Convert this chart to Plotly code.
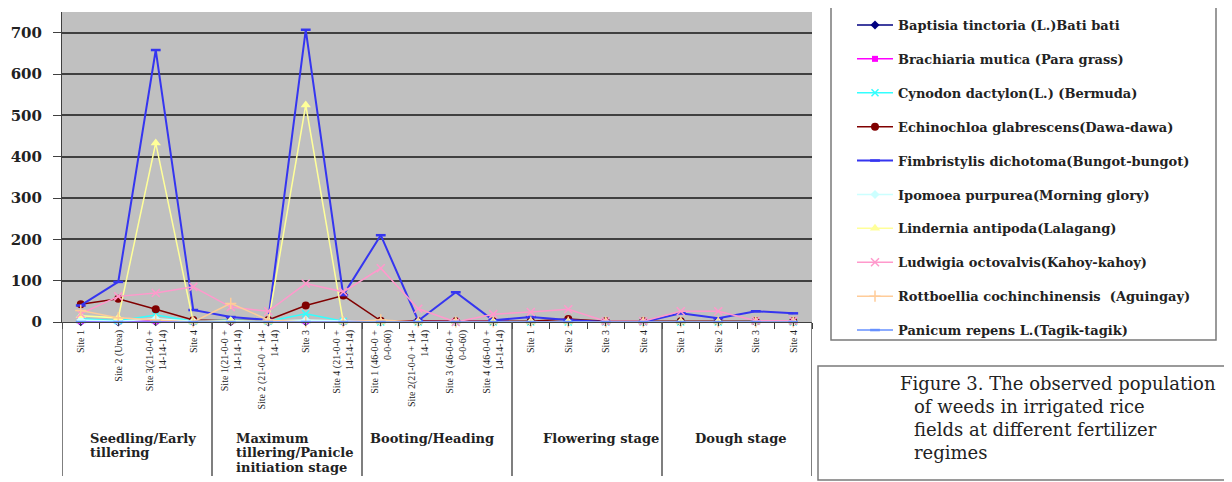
import plotly.graph_objects as go

# ---------------- data ----------------
site_labels = [
    "Site 1", "Site 2 (Urea)", "Site 3(21-0-0 +<br>14-14-14)", "Site 4",
    "Site 1(21-0-0 +<br>14-14-14)", "Site 2 (21-0-0 + 14-<br>14-14)", "Site 3", "Site 4 (21-0-0 +<br>14-14-14)",
    "Site 1 (46-0-0 +<br>0-0-60)", "Site 2(21-0-0 + 14-<br>14-14)", "Site 3 (46-0-0 +<br>0-0-60)", "Site 4 (46-0-0 +<br>14-14-14)",
    "Site 1", "Site 2", "Site 3", "Site 4",
    "Site 1", "Site 2", "Site 3", "Site 4",
]
stage_labels = [
    ["Seedling/Early", "tillering"],
    ["Maximum", "tillering/Panicle", "initiation stage"],
    ["Booting/Heading"],
    ["Flowering stage"],
    ["Dough stage"],
]

baptisia     = [1, 0, 1, 0, 1, 0, 1, 0, 0, 0, 0, 0, 0, 0, 0, 0, 0, 0, 0, 0]
brachiaria   = [2, 2, 2, 1, 2, 1, 2, 1, 1, 1, 1, 1, 1, 1, 1, 1, 1, 1, 1, 1]
cynodon      = [8, 3, 17, 2, 5, 2, 20, 2, 0, 0, 0, 0, 0, 0, 0, 0, 0, 0, 2, 0]
echinochloa  = [43, 56, 31, 5, 3, 5, 40, 64, 3, 2, 2, 2, 2, 7, 2, 2, 2, 2, 2, 2]
fimbristylis = [40, 97, 658, 29, 12, 5, 707, 65, 210, 3, 72, 4, 12, 5, 0, 0, 21, 9, 26, 21]
ipomoea      = [5, 2, 8, 2, 3, 2, 5, 2, 0, 0, 0, 0, 0, 0, 0, 0, 0, 0, 0, 0]
lindernia    = [15, 10, 433, 0, 2, 0, 525, 0, 0, 0, 0, 0, 0, 0, 0, 0, 0, 0, 0, 0]
ludwigia     = [20, 62, 70, 85, 36, 26, 93, 73, 130, 32, 0, 19, 24, 31, 2, 2, 26, 26, 3, 3]
rottboellia  = [28, 10, 5, 0, 45, 5, 0, 0, 5, 0, 0, 0, 0, 0, 0, 0, 0, 0, 0, 0]
panicum      = [0, 0, 0, 0, 0, 0, 0, 0, 0, 0, 0, 0, 0, 0, 0, 0, 0, 0, 0, 0]

series_names = [
    "Baptisia tinctoria (L.)Bati bati",
    "Brachiaria mutica (Para grass)",
    "Cynodon dactylon(L.) (Bermuda)",
    "Echinochloa glabrescens(Dawa-dawa)",
    "Fimbristylis dichotoma(Bungot-bungot)",
    "Ipomoea purpurea(Morning glory)",
    "Lindernia antipoda(Lalagang)",
    "Ludwigia octovalvis(Kahoy-kahoy)",
    "Rottboellia cochinchinensis  (Aguingay)",
    "Panicum repens L.(Tagik-tagik)",
]
series_values = [baptisia, brachiaria, cynodon, echinochloa, fimbristylis,
                 ipomoea, lindernia, ludwigia, rottboellia, panicum]

caption_lines = ["Figure 3. The observed population", "of weeds in irrigated rice",
                 "fields at different fertilizer", "regimes"]

# ---------------- styles ----------------
styles = [
    dict(color="#000080", symbol="diamond", size=7, lw=1.5),
    dict(color="#FF00FF", symbol="square", size=6, lw=1.5),
    dict(color="#33FFFF", symbol="x-thin", size=7, lw=1.5),
    dict(color="#800000", symbol="circle", size=8, lw=1.5),
    dict(color="#3535F0", symbol="line-ew", size=7, lw=2),
    dict(color="#CCFFFF", symbol="diamond", size=7, lw=1.5),
    dict(color="#FFFF99", symbol="triangle-up", size=9, lw=1.5),
    dict(color="#FF99CC", symbol="x-thin", size=8, lw=1.5),
    dict(color="#FFCC99", symbol="cross-thin", size=8, lw=1.5),
    dict(color="#6690FF", symbol="line-ew", size=7, lw=1.5),
]

x_idx = list(range(len(site_labels)))

fig = go.Figure()
for name, vals, st in zip(series_names, series_values, styles):
    thin = st["symbol"] in ("line-ew", "x-thin", "cross-thin")
    marker = dict(symbol=st["symbol"], size=st["size"], color=st["color"])
    if thin:
        marker["line"] = dict(color=st["color"], width=2.5 if st["symbol"] == "line-ew" else 1.5)
    fig.add_trace(go.Scatter(
        x=x_idx, y=vals, name=name, mode="lines+markers",
        line=dict(color=st["color"], width=st["lw"]),
        marker=marker, cliponaxis=False, legendgroup=name,
    ))

# the page body has an 8px margin; layout below is expressed in page pixels
OFF = 8
W, H = 1232 - OFF, 482 - OFF
PL, PR, PT, PB = 62, 812, 12, 322          # plot area in page pixels
L, R, T, B = PL - OFF, W - (PR - OFF), PT - OFF, H - (PB - OFF)
pw, ph = PR - PL, PB - PT

def px2xp(px):
    return (px - PL) / pw

def px2yp(py):
    return (PB - py) / ph

shapes = []
# group separators below axis
for b in [-0.5, 3.5, 7.5, 11.5, 15.5, 19.5]:
    shapes.append(dict(type="line", xref="x", yref="paper", x0=b, x1=b,
                       y0=0, y1=px2yp(476), line=dict(color="#555555", width=1.5)))
# legend box
shapes.append(dict(type="rect", xref="paper", yref="paper",
                   x0=px2xp(831), x1=px2xp(1216), y0=px2yp(340), y1=px2yp(5),
                   line=dict(color="#7a7a7a", width=1.5), fillcolor="rgba(0,0,0,0)"))
# caption box
shapes.append(dict(type="rect", xref="paper", yref="paper",
                   x0=px2xp(818), x1=px2xp(1240), y0=px2yp(480), y1=px2yp(366),
                   line=dict(color="#7a7a7a", width=1.5), fillcolor="rgba(0,0,0,0)"))

annotations = []
stage_left = [0.19, 4.09, 7.66, 12.27, 16.33]
for lines, xl in zip(stage_labels, stage_left):
    for k, t in enumerate(lines):
        annotations.append(dict(text=t, xref="x", yref="paper", x=xl, y=px2yp(438 + 14.5 * k),
                                xanchor="left", yanchor="middle", showarrow=False,
                                font=dict(family="DejaVu Serif", size=13, color="#222222", weight="bold")))
cap_x = [898, 912, 912, 912]
cap_y = [383, 406, 429, 452]
for t, cx, cy in zip(caption_lines, cap_x, cap_y):
    annotations.append(dict(text=t, xref="paper", yref="paper", x=px2xp(cx), y=px2yp(cy),
                            xanchor="left", yanchor="middle", showarrow=False,
                            font=dict(family="DejaVu Serif", size=18, color="#222222")))

fig.update_layout(
    width=W, height=H,
    margin=dict(l=L, r=R, t=T, b=B, autoexpand=False),
    paper_bgcolor="white", plot_bgcolor="#C0C0C0",
    showlegend=True,
    legend=dict(x=px2xp(852), y=px2yp(10), xanchor="left", yanchor="top",
                bgcolor="rgba(0,0,0,0)", borderwidth=0, itemwidth=36,
                tracegroupgap=14, traceorder="grouped", maxheight=470,
                font=dict(family="DejaVu Serif", size=13, color="#222222", weight="bold")),
    xaxis=dict(range=[-0.5, 19.5], tickmode="array", tickvals=x_idx, ticktext=site_labels,
               tickangle=-90, tickfont=dict(family="Liberation Serif", size=10, color="#222222"),
               showgrid=False, zeroline=False, showline=True, linecolor="#404040", linewidth=1,
               ticks="outside", ticklen=3, tickcolor="#404040", automargin=False,
               minor=dict(tickmode="array", tickvals=[i + 0.5 for i in range(-1, 20)],
                          ticks="outside", ticklen=6, tickcolor="#404040")),
    yaxis=dict(range=[0, 750], tickmode="linear", tick0=0, dtick=100,
               showgrid=True, gridcolor="#404040", gridwidth=2, zeroline=False,
               showline=True, linecolor="#404040", linewidth=1, automargin=False,
               ticks="outside", ticklen=8, tickcolor="#404040", ticklabelstandoff=8,
               tickfont=dict(family="DejaVu Serif", size=15, color="#222222", weight="bold")),
    shapes=shapes, annotations=annotations,
)

fig.write_html("out.html")
